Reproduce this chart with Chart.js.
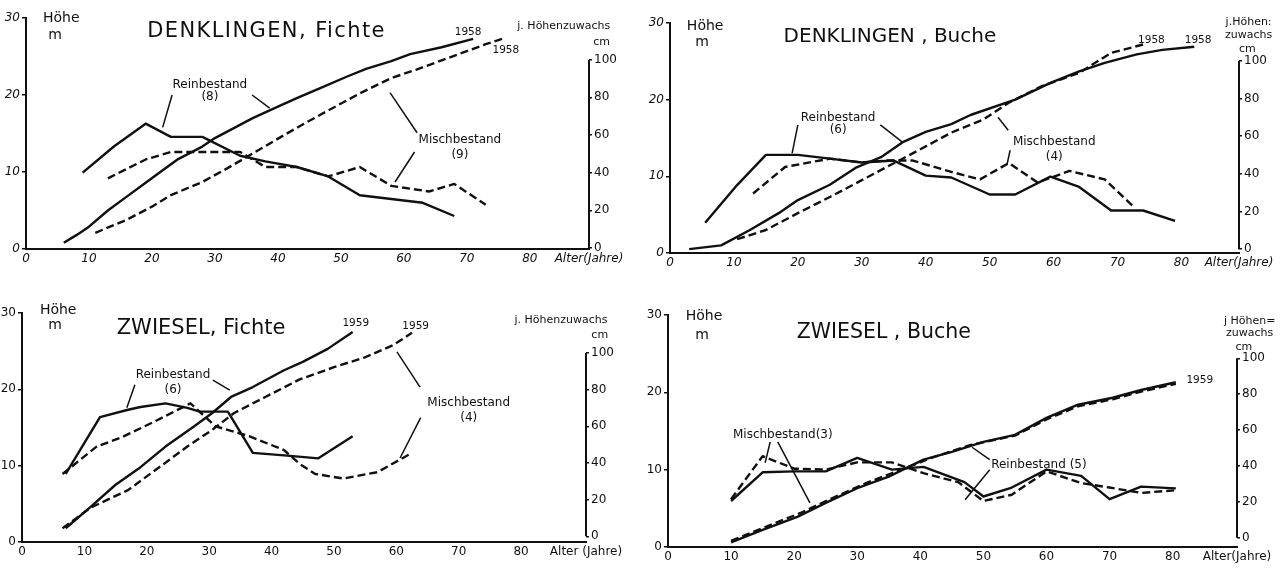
<!DOCTYPE html>
<html>
<head>
<meta charset="utf-8">
<script src="https://cdn.jsdelivr.net/npm/chart.js@4.4.1/dist/chart.umd.min.js"></script>
<style>
  html, body { margin: 0; padding: 0; background: #fff; }
  #wrap { position: relative; width: 1288px; height: 572px; overflow: hidden; background: #fff; }
  canvas { position: absolute; }
</style>
</head>
<body>
<div id="wrap">
  <canvas id="denkFichte" width="644" height="282" style="left:0;top:0"></canvas>
  <canvas id="denkBuche" width="644" height="282" style="left:644px;top:0"></canvas>
  <canvas id="zwieFichte" width="644" height="286" style="left:0;top:286px"></canvas>
  <canvas id="zwieBuche" width="644" height="286" style="left:644px;top:286px"></canvas>
</div>
<script>
// Achsen
const ageTicks = [0, 10, 20, 30, 40, 50, 60, 70, 80];
const heightTicks = [0, 10, 20, 30];
const growthTicks = [0, 20, 40, 60, 80, 100];

// DENKLINGEN, Fichte  (Hoehe m / j. Hoehenzuwachs cm)
const dfReinHAge = [6, 8, 10, 13, 16, 19, 21, 24, 28, 30, 33, 36, 40, 43, 47, 51, 54, 58, 61, 66, 71];
const dfReinH = [0.8, 1.8, 2.9, 5.0, 6.8, 8.6, 9.8, 11.6, 13.3, 14.4, 15.7, 17, 18.5, 19.6, 21, 22.4, 23.4, 24.4, 25.3, 26.2, 27.3];
const dfMischHAge = [11, 16, 20, 23, 28, 32, 36, 41, 44, 48, 53, 58, 62, 66, 70, 73, 76];
const dfMischH = [2.1, 3.8, 5.5, 7, 8.7, 10.5, 12.4, 14.8, 16.2, 18, 20.2, 22.2, 23.3, 24.5, 25.7, 26.6, 27.4];
const dfReinZAge = [9, 14, 19, 23, 28, 34, 38, 43, 48, 53, 58, 63, 68];
const dfReinZ = [40, 54, 66, 59, 59, 49, 46, 43, 38, 28, 26, 24, 17];
const dfMischZAge = [13, 19, 23, 28, 34, 38, 43, 48, 53, 58, 64, 68, 73];
const dfMischZ = [37, 47, 51, 51, 51, 43, 43, 38, 43, 33, 30, 34, 23];

// DENKLINGEN, Buche
const dbReinHAge = [3, 8, 12.5, 17, 20, 25, 29, 33, 36.5, 40, 44, 47, 54, 59.5, 64, 68, 73, 77, 82];
const dbReinH = [0.5, 1.0, 3.0, 5.2, 6.9, 8.9, 11.1, 12.5, 14.5, 15.8, 16.8, 18, 20, 22.2, 23.7, 24.8, 25.9, 26.5, 26.9];
const dbMischHAge = [10.5, 15, 20, 25, 30, 35, 40, 44, 49, 53, 58, 64, 69, 74];
const dbMischH = [1.8, 3.0, 5.2, 7.3, 9.5, 11.7, 13.9, 15.7, 17.4, 19.6, 21.7, 23.5, 26.1, 27.2];
const dbReinZAge = [5.5, 10.5, 15, 20, 25, 30, 35, 40, 44, 50, 54, 59.5, 64, 69, 74, 79];
const dbReinZ = [14, 34, 50, 50, 48, 46, 47, 39, 38, 29, 29, 38.5, 33, 20.5, 20.5, 15];
const dbMischZAge = [13, 18, 25, 30, 34, 38, 42, 44, 48.5, 53, 57.5, 62.5, 68, 72.5];
const dbMischZ = [29.5, 43.6, 48, 46, 47, 47, 43, 41, 37, 45.7, 35.4, 41.5, 37, 22.5];

// ZWIESEL, Fichte
const zfReinHAge = [7, 11, 15, 19, 23, 27.5, 30.5, 33.5, 37, 42, 45, 49, 53];
const zfReinH = [1.8, 4.6, 7.5, 9.8, 12.5, 15.1, 16.9, 19, 20.3, 22.5, 23.6, 25.3, 27.5];
const zfMischHAge = [6.5, 11, 17, 22, 26.5, 30.5, 34, 39, 44.5, 50, 55, 59.5, 62.5];
const zfMischH = [1.8, 4.5, 6.8, 9.8, 12.5, 14.7, 16.9, 19, 21.3, 22.9, 24.2, 25.8, 27.4];
const zfReinZAge = [7, 12.5, 17, 19, 23, 26.5, 28.5, 33, 37, 42.5, 47.5, 53];
const zfReinZ = [34, 65, 69, 70.5, 72.5, 70, 68, 68, 45.5, 44, 42.5, 54.5];
const zfMischZAge = [6.5, 12, 16, 21.5, 27, 31, 36.5, 42, 44.5, 47, 51.5, 57, 62];
const zfMischZ = [34, 49, 54, 63, 72.5, 60, 54.5, 47, 39.5, 34, 31.5, 35, 44.5];

// ZWIESEL, Buche
const zbReinHAge = [10, 15, 20.5, 25, 30, 35, 40.5, 45, 50, 55, 60, 65, 70.5, 75, 80.5];
const zbReinH = [0.6, 2.2, 3.9, 5.7, 7.6, 9.1, 11.3, 12.3, 13.6, 14.5, 16.7, 18.4, 19.3, 20.3, 21.3];
const zbMischHAge = [10, 15.5, 21, 26, 31.5, 37, 42, 48, 55, 60, 65, 70.5, 75, 80.5];
const zbMischH = [0.8, 2.6, 4.4, 6.3, 8.3, 10, 11.6, 13.2, 14.4, 16.5, 18.2, 19.1, 20.1, 21.1];
const zbReinZAge = [10, 15, 20, 25, 30, 35.5, 40.5, 47, 50, 54.5, 60, 65.5, 70, 75, 80.5];
const zbReinZ = [20.5, 36.5, 37, 37, 44.5, 38, 39.5, 31, 23, 28, 38, 34.5, 21.5, 28.5, 27.5];
const zbMischZAge = [10, 15, 20, 25, 30, 35.5, 40.5, 46, 50, 54.5, 60, 65.5, 70, 75, 80.5];
const zbMischZ = [21.5, 45.5, 38.5, 38, 42, 42, 36, 31, 20.5, 24, 37, 30.5, 28, 25, 26.5];

const ink = '#101010';
const fam = '"DejaVu Sans", sans-serif';
const fonts = {
  titleWide: { font: '21px ' + fam, spacing: '1.4px' },
  title: { font: '21px ' + fam },
  titleNarrow: { font: '20px ' + fam },
  titleSmall: { font: '20.5px ' + fam },
  axis: { font: '14px ' + fam },
  label: { font: '12px ' + fam },
  small: { font: '11px ' + fam },
  year: { font: '10.5px ' + fam }
};

// Beschriftungen in Datenkoordinaten (Alter, Hoehe m)
const notes = {
  denkFichte: {
    texts: [
      ['DENKLINGEN, Fichte', 38.2, 28.2, 'titleWide'], ['Höhe', 5.6, 29.9, 'axis'], ['m', 4.6, 27.8, 'axis'],
      ['1958', 70.2, 28.2, 'year'], ['1958', 76.2, 25.8, 'year'],
      ['j. Höhenzuwachs', 85.4, 29, 'small'], ['cm', 91.4, 26.9, 'small'],
      ['Reinbestand', 29.2, 21.3, 'label'], ['(8)', 29.2, 19.7, 'label'],
      ['Mischbestand', 68.9, 14.2, 'label'], ['(9)', 68.9, 12.2, 'label']
    ],
    lines: [[23.2, 20, 21.7, 15.8], [35.9, 20, 38.7, 18.3], [62.1, 15.1, 57.8, 20.3], [61.7, 12.6, 58.6, 8.7]]
  },
  denkBuche: {
    texts: [
      ['DENKLINGEN , Buche', 34.4, 28.2, 'titleNarrow'], ['Höhe', 5.5, 29.5, 'axis'], ['m', 5, 27.5, 'axis'],
      ['1958', 75.3, 27.8, 'year'], ['1958', 82.6, 27.8, 'year'],
      ['j.Höhen:', 90.5, 30.1, 'small'], ['zuwachs', 90.5, 28.4, 'small'], ['cm', 90.3, 26.6, 'small'],
      ['Reinbestand', 26.3, 17.6, 'label'], ['(6)', 26.3, 16, 'label'],
      ['Mischbestand', 60.1, 14.5, 'label'], ['(4)', 60.1, 12.5, 'label']
    ],
    lines: [[20, 16.7, 19.1, 13], [32.9, 16.7, 36.3, 14.5], [52.9, 16, 51.3, 17.7], [53.2, 13.4, 52.7, 11.5]]
  },
  zwieFichte: {
    texts: [
      ['ZWIESEL, Fichte', 28.7, 28, 'title'], ['Höhe', 5.8, 30.4, 'axis'], ['m', 5.3, 28.4, 'axis'],
      ['1959', 53.5, 28.7, 'year'], ['1959', 63.1, 28.2, 'year'],
      ['j. Höhenzuwachs', 86.4, 29.1, 'small'], ['cm', 92.6, 27.1, 'small'],
      ['Reinbestand', 24.2, 21.9, 'label'], ['(6)', 24.2, 19.9, 'label'],
      ['Mischbestand', 71.6, 18.2, 'label'], ['(4)', 71.6, 16.3, 'label']
    ],
    lines: [[18.1, 20.6, 16.8, 17.6], [30.6, 21.2, 33.3, 19.9], [63.8, 20.3, 60.1, 24.9], [63.9, 16.3, 60.6, 11]]
  },
  zwieBuche: {
    texts: [
      ['ZWIESEL , Buche', 34.2, 27.7, 'titleSmall'], ['Höhe', 5.7, 29.8, 'axis'], ['m', 5.4, 27.4, 'axis'],
      ['1959', 84.3, 21.6, 'year'],
      ['j Höhen=', 92.2, 29.2, 'small'], ['zuwachs', 92.2, 27.6, 'small'], ['cm', 91.3, 25.9, 'small'],
      ['Mischbestand(3)', 18.2, 14.5, 'label'], ['Reinbestand (5)', 58.8, 10.6, 'label']
    ],
    lines: [[16.2, 13.6, 15.4, 10.9], [17.4, 13.6, 22.5, 5.7], [51, 11.3, 48.2, 12.9], [51, 10, 47.1, 6.1]]
  }
};

// rechte Achse nur 0..100, Texte und Hinweislinien
const notesPlugin = {
  id: 'notes',
  afterDraw(chart) {
    const { ctx, chartArea, scales: { x, y, y1 } } = chart;
    const n = notes[chart.canvas.id];
    ctx.save();
    ctx.strokeStyle = ink;
    ctx.fillStyle = ink;
    ctx.lineWidth = 2;
    ctx.beginPath();
    ctx.moveTo(chartArea.right, y1.getPixelForValue(0));
    ctx.lineTo(chartArea.right, y1.getPixelForValue(100));
    ctx.stroke();
    ctx.lineWidth = 1.5;
    n.lines.forEach(l => {
      ctx.beginPath();
      ctx.moveTo(x.getPixelForValue(l[0]), y.getPixelForValue(l[1]));
      ctx.lineTo(x.getPixelForValue(l[2]), y.getPixelForValue(l[3]));
      ctx.stroke();
    });
    ctx.textAlign = 'center';
    ctx.textBaseline = 'middle';
    n.texts.forEach(t => {
      const f = fonts[t[3]];
      ctx.font = f.font;
      ctx.letterSpacing = f.spacing || '0px';
      ctx.fillText(t[0], x.getPixelForValue(t[1]), y.getPixelForValue(t[2]));
    });
    ctx.restore();
  }
};

function pts(ages, vals) {
  return ages.map((a, i) => ({ x: a, y: vals[i] }));
}

function makePanel(p) {
  const ppc = (p.r0 - p.r100) / 100;
  const tickFont = { family: fam, size: 12, style: p.italic ? 'italic' : 'normal' };
  new Chart(document.getElementById(p.id), {
    type: 'line',
    data: {
      datasets: p.series.map(s => ({
        data: pts(s[0], s[1]),
        yAxisID: s[2],
        borderDash: s[3] ? [8, 4] : [],
        tension: 0,
        borderColor: ink,
        borderWidth: 2.4,
        borderJoinStyle: 'round',
        pointRadius: 0,
        fill: false
      }))
    },
    options: {
      responsive: false,
      animation: false,
      events: [],
      layout: { padding: { top: p.top, left: 0, right: 0, bottom: 0 } },
      plugins: { legend: { display: false }, tooltip: { enabled: false } },
      scales: {
        x: {
          type: 'linear', min: 0, max: p.xMax,
          afterFit: s => { s.height = p.h - p.bottom; },
          afterBuildTicks: s => { s.ticks = ageTicks.concat(p.xMax).map(v => ({ value: v })); },
          ticks: {
            autoSkip: false, maxRotation: 0, padding: 3, color: ink, font: tickFont,
            callback: v => v === p.xMax ? p.xEnd : v
          },
          grid: { drawOnChartArea: false, tickLength: 0, color: ink },
          border: { color: ink, width: 2 }
        },
        y: {
          position: 'left', min: 0, max: 30,
          afterFit: s => { s.width = p.left; },
          afterBuildTicks: s => { s.ticks = heightTicks.map(v => ({ value: v })); },
          ticks: { padding: 2, color: ink, font: tickFont },
          grid: { drawOnChartArea: false, tickLength: 4, color: ink, lineWidth: 1.5 },
          border: { color: ink, width: 2 }
        },
        y1: {
          position: 'right',
          min: -(p.r0 - p.bottom) / ppc,
          max: (p.r0 - p.top) / ppc,
          afterFit: s => { s.width = p.w - p.right; },
          afterBuildTicks: s => { s.ticks = growthTicks.map(v => ({ value: v })); },
          ticks: { padding: 2, color: ink, font: { family: fam, size: 12 } },
          grid: { drawOnChartArea: false, tickLength: 3, color: ink, lineWidth: 1.5 },
          border: { display: false }
        }
      }
    },
    plugins: [notesPlugin]
  });
}

// Diagramme
makePanel({
  id: 'denkFichte', w: 644, h: 282, top: 18, bottom: 249, left: 26, right: 589,
  xMax: 89.4, r0: 250, r100: 60, italic: true, xEnd: 'Alter(Jahre)',
  series: [
    [dfReinHAge, dfReinH, 'y', false], [dfMischHAge, dfMischH, 'y', true],
    [dfReinZAge, dfReinZ, 'y1', false], [dfMischZAge, dfMischZ, 'y1', true]
  ]
});
makePanel({
  id: 'denkBuche', w: 644, h: 282, top: 23, bottom: 253, left: 26, right: 595,
  xMax: 89, r0: 257, r100: 62, italic: true, xEnd: 'Alter(Jahre)',
  series: [
    [dbReinHAge, dbReinH, 'y', false], [dbMischHAge, dbMischH, 'y', true],
    [dbReinZAge, dbReinZ, 'y1', false], [dbMischZAge, dbMischZ, 'y1', true]
  ]
});
makePanel({
  id: 'zwieFichte', w: 644, h: 286, top: 27, bottom: 256, left: 22, right: 586,
  xMax: 90.4, r0: 262, r100: 69, italic: false, xEnd: 'Alter (Jahre)',
  series: [
    [zfReinHAge, zfReinH, 'y', false], [zfMischHAge, zfMischH, 'y', true],
    [zfReinZAge, zfReinZ, 'y1', false], [zfMischZAge, zfMischZ, 'y1', true]
  ]
});
makePanel({
  id: 'zwieBuche', w: 644, h: 286, top: 29, bottom: 261, left: 24, right: 593,
  xMax: 90.2, r0: 271, r100: 76, italic: false, xEnd: 'Alter(Jahre)',
  series: [
    [zbReinHAge, zbReinH, 'y', false], [zbMischHAge, zbMischH, 'y', true],
    [zbReinZAge, zbReinZ, 'y1', false], [zbMischZAge, zbMischZ, 'y1', true]
  ]
});
</script>
</body>
</html>
